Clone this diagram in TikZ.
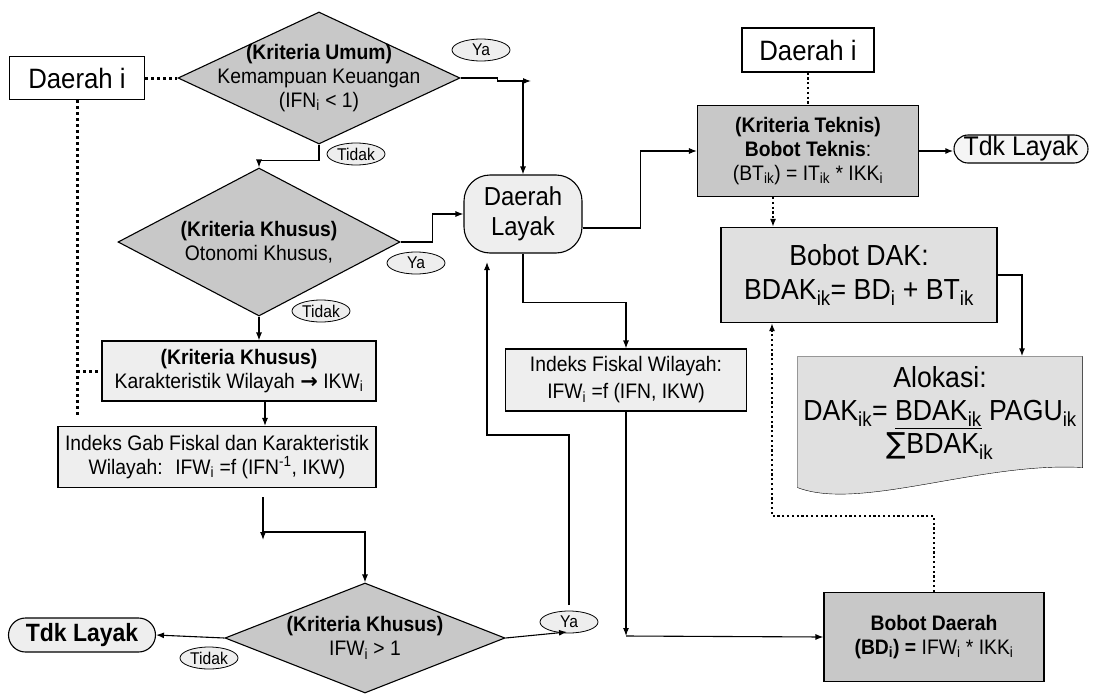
\documentclass[tikz,border=0pt]{standalone}
\usepackage{fontspec}
\setmainfont[FakeStretch=0.92]{Liberation Sans}
\newfontfamily\djv{DejaVu Sans}
\usetikzlibrary{shapes.geometric,arrows.meta,backgrounds}
\definecolor{dgray}{RGB}{200,200,200}
\definecolor{mgray}{RGB}{224,224,224}
\definecolor{lgray}{RGB}{238,238,238}
\newcommand{\fsz}[2]{\fontsize{#1}{#2}\selectfont}
\newcommand{\lo}[1]{\textsubscript{#1}}

\begin{document}
\begin{tikzpicture}[x=1pt,y=-1pt,line width=1.1pt,
  box/.style={draw,align=center,inner sep=1pt,font=\fsz{21}{24}},
  dia/.style={draw,diamond,fill=dgray,inner sep=0pt},
  dtxt/.style={font=\fsz{21}{24},align=center},
  tag/.style={draw,ellipse,fill=lgray,inner sep=0pt,line width=0.8pt,
              minimum width=58pt,minimum height=22pt,font=\fsz{17}{18}},
  term/.style={draw,fill=lgray,inner sep=0pt,align=center},
  arr/.style={-{Latex[length=8pt,width=6pt]}},
  thk/.style={line width=2.6pt},
  dots/.style={line width=3pt,dash pattern=on 3pt off 3pt},
  tdots/.style={line width=2.2pt,dash pattern=on 2.2pt off 2.6pt}
]
\useasboundingbox (0,0) rectangle (1099,693);

% left column: umum -> khusus -> wilayah -> gabungan -> IFW > 1
\node[box,fill=white,minimum width=135pt,minimum height=43pt,font=\fsz{28}{30}] (dl) at (77,78) {Daerah i};
\node[dia,minimum width=282pt,minimum height=132pt,
  label={[dtxt]center:{\textbf{(Kriteria Umum)}\\Kemampuan Keuangan\\(IFN\lo{i} < 1)}}] (ku) at (319,78) {};
\node[tag] (ya1) at (481,50) {Ya};
\node[tag] (td1) at (356,154) {Tidak};

\node[dia,minimum width=282pt,minimum height=148pt,
  label={[dtxt]center:{\textbf{(Kriteria Khusus)}\\Otonomi Khusus,}}] (kk) at (259,242) {};
\node[tag] (ya2) at (416,263) {Ya};
\node[tag] (td2) at (321,311) {Tidak};

\node[box,fill=lgray,minimum width=274pt,minimum height=60pt] (kw) at (239,371)
  {\textbf{(Kriteria Khusus)}\\Karakteristik Wilayah {\djv\bfseries →} IKW\lo{i}};
\node[box,fill=lgray,minimum width=318pt,minimum height=61pt] (gab) at (217,457)
  {Indeks Gab Fiskal dan Karakteristik\\Wilayah:~ IFW\lo{i} =f (IFN\textsuperscript{-1}, IKW)};

\node[dia,minimum width=280pt,minimum height=110pt,
  label={[dtxt]center:{\textbf{(Kriteria Khusus)}\\IFW\lo{i} > 1}}] (kf) at (365,638) {};
\node[term,rounded corners=17pt,minimum width=147pt,minimum height=34pt,font=\fsz{25}{27}\bfseries] (tl1) at (82,635) {Tdk Layak};
\node[tag] (td3) at (209,658) {Tidak};
\node[tag] (ya3) at (569,622) {Ya};

% middle
\node[term,rounded corners=26pt,minimum width=118pt,minimum height=78pt,font=\fsz{26}{30}] (lyk) at (523,214) {Daerah\\Layak};
\node[box,fill=lgray,minimum width=241pt,minimum height=62pt,font=\fsz{21}{27}] (ifw) at (626,380)
  {Indeks Fiskal Wilayah:\\IFW\lo{i} =f (IFN, IKW)};

% right column
\node[box,fill=white,minimum width=132pt,minimum height=44pt,font=\fsz{28}{30}] (dr) at (808,50) {Daerah i};
\node[box,fill=dgray,minimum width=221pt,minimum height=91pt] (tek) at (808,151)
  {\textbf{(Kriteria Teknis)}\\\textbf{Bobot Teknis}:\\(BT\lo{ik}) = IT\lo{ik} * IKK\lo{i}};
\node[term,rounded corners=14pt,fill=lgray!60,minimum width=134pt,minimum height=28pt,font=\fsz{27}{28}] (tl2) at (1021,149) {Tdk Layak};
\node[box,fill=mgray,minimum width=276pt,minimum height=95pt,font=\fsz{29}{34}] (bdak) at (859,275)
  {Bobot DAK:\\BDAK\lo{ik}= BD\lo{i} + BT\lo{ik}};
\node[align=center,inner sep=0pt,minimum width=284pt,minimum height=110pt,font=\fsz{29}{33}] (alo) at (940,412)
  {\\[-10pt]Alokasi:\\DAK\lo{ik}= \underline{BDAK\lo{ik}} PAGU\lo{ik}\\{\djv ∑}BDAK\lo{ik}};
\node[box,fill=dgray,minimum width=220pt,minimum height=89pt] (bd) at (934,637)
  {\textbf{Bobot Daerah}\\\textbf{(BD\lo{i}) =} IFW\lo{i} * IKK\lo{i}};

\begin{scope}[on background layer]
\draw[fill=mgray] (alo.north west) -- (alo.north east) -- (alo.south east)
  .. controls +(-102,-6) and +(62,24) .. ([yshift=-20pt]alo.south west) -- cycle;
\end{scope}

% free ends
\coordinate (yaend) at (531,81);
\coordinate (dend) at (77,418);
\coordinate (g1) at (263,497);
\coordinate (g2) at (263,540);
\coordinate (g3) at (263,532);
\coordinate (yb) at (567,632);
\coordinate (r1) at (569,605);
\coordinate (r2) at (569,435);
\coordinate (r3) at (487,262);
\coordinate (bj) at (626,636);

% dotted links
\draw[dots] (dl) -- (ku);
\draw[dots] (dl.south) -- (dend);
\draw[dots] (dl.south |- kw.west) -- (kw.west);
\draw[tdots] (dr) -- (tek);
\draw[tdots,arr] ([xshift=-35pt]tek.south) -- ([xshift=-35pt]tek.south |- bdak.north);
\draw[tdots,arr] (bd.north) -- ++(0,-76) -| ([xshift=-87pt]bdak.south);

% flow
\draw[arr] (ku.east) -- ++(37,0) -- ++(0,3) -- (yaend);
\draw[arr] (lyk.north |- yaend) -- (lyk.north);
\draw[arr] (ku.south) -- ++(0,16) -| (kk.north);
\draw[arr] (kk.east) -- ++(32,0) |- (lyk.west);
\draw[arr] (kk.south) -- (kk.south |- kw.north);
\draw[arr] ([xshift=26pt]kw.south) -- ([xshift=26pt]kw.south |- gab.north);
\draw[arr] (g1) -- (g2);
\draw[arr] (g3) -| (kf.north);
\draw[arr] (kf.west) -- (tl1.east);
\draw[arr] (kf.east) -- (yb);
\draw[arr] (r1) -- (r2) -| (r3);
\draw[arr] (lyk.south) -- ++(0,49) -| (ifw.north);
\draw[arr] (ifw.south) -- (bj);
\draw[arr] (bj) -- (bd.west);
\draw[arr] ([yshift=-14pt]lyk.east) -- ++(58,0) |- (tek.west);
\draw[arr,thk] (tek.east) -- (tek.east -| tl2.west);
\draw[arr,thk] (bdak.east) -| ([xshift=82pt]alo.north);
\end{tikzpicture}
\end{document}
